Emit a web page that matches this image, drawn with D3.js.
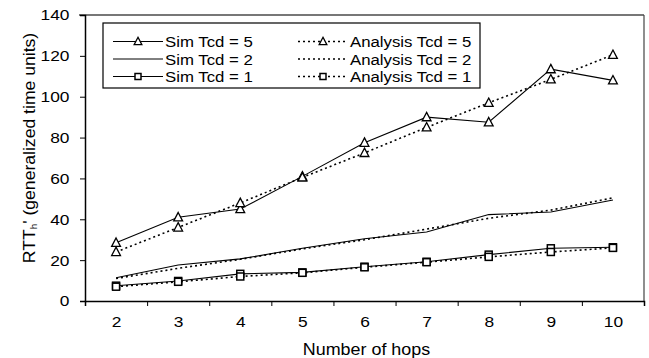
<!DOCTYPE html>
<html>
<head>
<meta charset="utf-8">
<script src="https://cdn.jsdelivr.net/npm/d3@7"></script>
<style>
  body { margin: 0; background: #fff; }
  text { font-family: "Liberation Sans", Arial, Helvetica, sans-serif; fill: #000; }
</style>
</head>
<body>
<div class="canvas"></div>
<script>
const hops = [2, 3, 4, 5, 6, 7, 8, 9, 10];
const yTicks = [0, 20, 40, 60, 80, 100, 120, 140];
const simTcd5 = [28.5, 41, 45, 61, 77.5, 90, 87.5, 113.5, 108];
const anaTcd5 = [24, 36, 48, 60.5, 72.5, 85, 97, 108.5, 120.5];
const simTcd2 = [11.4, 17.6, 20.6, 25.8, 30.5, 33.8, 42.3, 43.6, 49.4];
const anaTcd2 = [11, 16, 20.4, 25.5, 30, 35.2, 40.5, 44.5, 50.5];
const simTcd1 = [7.5, 9.8, 13.3, 14, 16.8, 19.2, 22.7, 25.8, 26.3];
const anaTcd1 = [7, 9.4, 12, 13.8, 16.5, 19, 21.6, 24, 26];

const series = [
  { name: "Sim Tcd = 5", values: simTcd5, dash: null, marker: "tri" },
  { name: "Sim Tcd = 2", values: simTcd2, dash: null, marker: null },
  { name: "Sim Tcd = 1", values: simTcd1, dash: null, marker: "sq" },
  { name: "Analysis Tcd = 5", values: anaTcd5, dash: "2,3", marker: "tri" },
  { name: "Analysis Tcd = 2", values: anaTcd2, dash: "2,3", marker: null },
  { name: "Analysis Tcd = 1", values: anaTcd1, dash: "2,3", marker: "sq" }
];

const landScape = { width: 649, height: 358 };
const margin = { top: 15, right: 5, bottom: 57, left: 85 };
const graphWidth = landScape.width - margin.left - margin.right;
const graphHeight = landScape.height - margin.top - margin.bottom;
const stretch = 1.12; // the reference type is a bit wide

const svg = d3.select(".canvas").append("svg")
  .attr("width", landScape.width)
  .attr("height", landScape.height);

const graph = svg.append("g")
  .attr("transform", `translate(${margin.left}, ${margin.top})`);

// scales
const xScale = d3.scaleLinear().domain([1.5, 10.5]).range([0, graphWidth]);
const yScale = d3.scaleLinear().domain([0, 140]).range([graphHeight, 0]);

// frame top / right
graph.append("line")
  .attr("x1", -6).attr("x2", graphWidth).attr("y1", 0).attr("y2", 0)
  .attr("stroke", "#777").attr("stroke-width", 2);
graph.append("line")
  .attr("x1", graphWidth).attr("x2", graphWidth).attr("y1", 0).attr("y2", graphHeight)
  .attr("stroke", "#444").attr("stroke-width", 1.2);

// axes
const yAxis = d3.axisLeft(yScale).tickValues(yTicks).tickSize(5);
const yAxisGroup = graph.append("g").call(yAxis);
yAxisGroup.select(".domain").attr("stroke-width", 1.5);
yAxisGroup.selectAll("text")
  .style("font-size", "15.5px")
  .attr("x", -15.5 / stretch)
  .attr("transform", `scale(${stretch},1)`);

const xBounds = d3.range(1.5, 11, 1);
const xAxisGroup = graph.append("g").attr("transform", `translate(0, ${graphHeight})`)
  .call(d3.axisBottom(xScale).tickValues(xBounds).tickSize(5).tickFormat(""));
xAxisGroup.select(".domain").attr("stroke-width", 1.5);
graph.append("g").attr("transform", `translate(0, ${graphHeight})`)
  .call(d3.axisBottom(xScale).tickValues(hops).tickSize(0).tickPadding(15))
  .call(g => g.select(".domain").remove())
  .selectAll("text")
  .style("font-size", "15.5px")
  .attr("transform", `scale(${stretch},1)`);

// axis titles
svg.append("g")
  .attr("transform", `translate(${margin.left + graphWidth / 2 + 2}, 355) scale(${stretch},1)`)
  .append("text")
  .attr("text-anchor", "middle")
  .style("font-size", "16px")
  .text("Number of hops");

const yTitle = svg.append("text")
  .attr("transform", "translate(35, 148) rotate(-90) scale(1.1,1)")
  .attr("text-anchor", "middle")
  .style("font-size", "16px");
yTitle.append("tspan").text("RTT");
yTitle.append("tspan").attr("dy", 2).style("font-size", "9px").text("h");
yTitle.append("tspan").attr("dy", -2).text("' (generalized time units)");

// lines
const line = vals => d3.line()
  .x((d, i) => xScale(hops[i]))
  .y(d => yScale(d))(vals);

const drawMarker = (g, type, x, y, s) => {
  if (type === "tri") {
    g.append("path")
      .attr("d", `M${x},${y - s * 0.6}L${x + s * 0.55},${y + s * 0.45}L${x - s * 0.55},${y + s * 0.45}Z`)
      .attr("fill", "#fff").attr("stroke", "#000").attr("stroke-width", 1.3);
  } else if (type === "sq") {
    g.append("rect")
      .attr("x", x - s / 2).attr("y", y - s / 2).attr("width", s).attr("height", s)
      .attr("fill", "#fff").attr("stroke", "#000").attr("stroke-width", 1.5);
  }
};

series.forEach(s => {
  graph.append("path")
    .attr("d", line(s.values))
    .attr("fill", "none")
    .attr("stroke", "#000")
    .attr("stroke-width", s.dash ? 1.6 : 1.1)
    .attr("stroke-dasharray", s.dash);
});
series.forEach(s => {
  if (!s.marker) return;
  const mg = graph.append("g");
  s.values.forEach((v, i) => drawMarker(mg, s.marker, xScale(hops[i]), yScale(v), s.marker === "tri" ? 8 : 7));
});

// legend
const legend = svg.append("g").attr("transform", "translate(103, 23)");
legend.append("rect")
  .attr("width", 377).attr("height", 65)
  .attr("fill", "#fff").attr("stroke", "#000").attr("stroke-width", 1.2);
series.forEach((s, i) => {
  const col = Math.floor(i / 3), row = i % 3;
  const x0 = col === 0 ? 10 : 195;
  const y0 = 18.5 + row * 17.5;
  const item = legend.append("g");
  item.append("line")
    .attr("x1", x0).attr("x2", x0 + 50).attr("y1", y0).attr("y2", y0)
    .attr("stroke", "#000").attr("stroke-width", s.dash ? 1.4 : 1)
    .attr("stroke-dasharray", s.dash);
  if (s.marker) drawMarker(item, s.marker, x0 + 25, y0, s.marker === "tri" ? 7 : 6);
  item.append("g")
    .attr("transform", `translate(${x0 + 52}, ${y0 + 5.5}) scale(${stretch},1)`)
    .append("text")
    .style("font-size", "15px")
    .text(s.name);
});
</script>
</body>
</html>
